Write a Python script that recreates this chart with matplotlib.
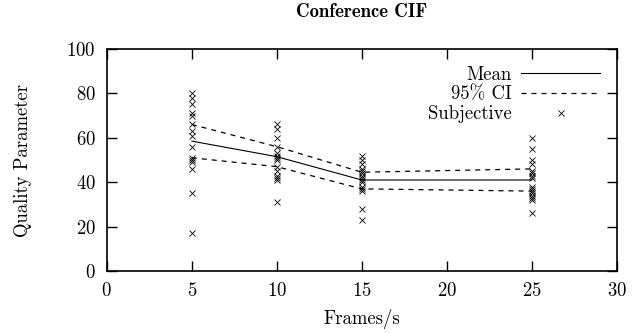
import matplotlib
matplotlib.use("Agg")
import matplotlib.pyplot as plt

plt.rcParams['font.family'] = 'serif'
plt.rcParams['font.serif'] = ['cmr10', 'DejaVu Serif']
plt.rcParams['axes.formatter.use_mathtext'] = True
plt.rcParams['mathtext.fontset'] = 'cm'

# frame rates and the mean / confidence interval per rate
fps = [5, 10, 15, 25]
mean_q = [58.5, 51.5, 41.0, 41.0]
ci_low = [51.0, 47.0, 37.0, 36.0]
ci_high = [66.0, 56.0, 44.5, 46.0]

# individual subjective scores
subj_5 = [80, 78, 75, 71, 70, 66, 63, 61, 56, 51, 50, 49, 46, 35, 17]
subj_10 = [66, 64, 60, 56, 53, 52, 51, 50, 47, 45, 43, 42, 41, 31]
subj_15 = [52, 50, 48, 46, 45, 44, 43, 42, 41, 40, 38, 37, 36, 28, 23]
subj_25 = [60, 55, 50, 48, 45, 44, 43, 42, 38, 37, 36, 35, 34, 33, 32, 26]

fig = plt.figure(figsize=(6.32, 3.33), dpi=100)
ax = fig.add_axes([0.169, 0.186, 0.807, 0.667])

ax.plot(fps, mean_q, '-', color='black', linewidth=0.8, label='Mean')
ax.plot(fps, ci_low, '--', color='black', linewidth=0.9, dashes=(4, 4), label='95% CI')
ax.plot(fps, ci_high, '--', color='black', linewidth=0.9, dashes=(4, 4))

sx, sy = [], []
for f, vals in zip(fps, [subj_5, subj_10, subj_15, subj_25]):
    sx += [f] * len(vals)
    sy += vals
ax.plot(sx, sy, 'x', color='black', markersize=4.5, markeredgewidth=0.6,
        linestyle='none', label='Subjective')

ax.set_xlim(0, 30)
ax.set_ylim(0, 100)
ax.set_xticks([0, 5, 10, 15, 20, 25, 30])
ax.set_yticks([0, 20, 40, 60, 80, 100])
ax.tick_params(direction='in', length=7, width=1, top=True, right=True,
               labelsize=13.5, pad=8)
for s in ax.spines.values():
    s.set_linewidth(1.2)

ax.set_xlabel('Frames/s', fontsize=13.5, labelpad=6)
ax.set_ylabel('Quality Parameter', fontsize=13.5, labelpad=25)
ax.set_title('Conference CIF', fontsize=13.5, fontfamily='cmb10', pad=23)

ax.legend(loc='upper right', frameon=False, markerfirst=False, fontsize=13.5,
          handlelength=4.2, handletextpad=0.5, labelspacing=0.1,
          borderaxespad=0.5)

fig.savefig('out.png', dpi=100)
